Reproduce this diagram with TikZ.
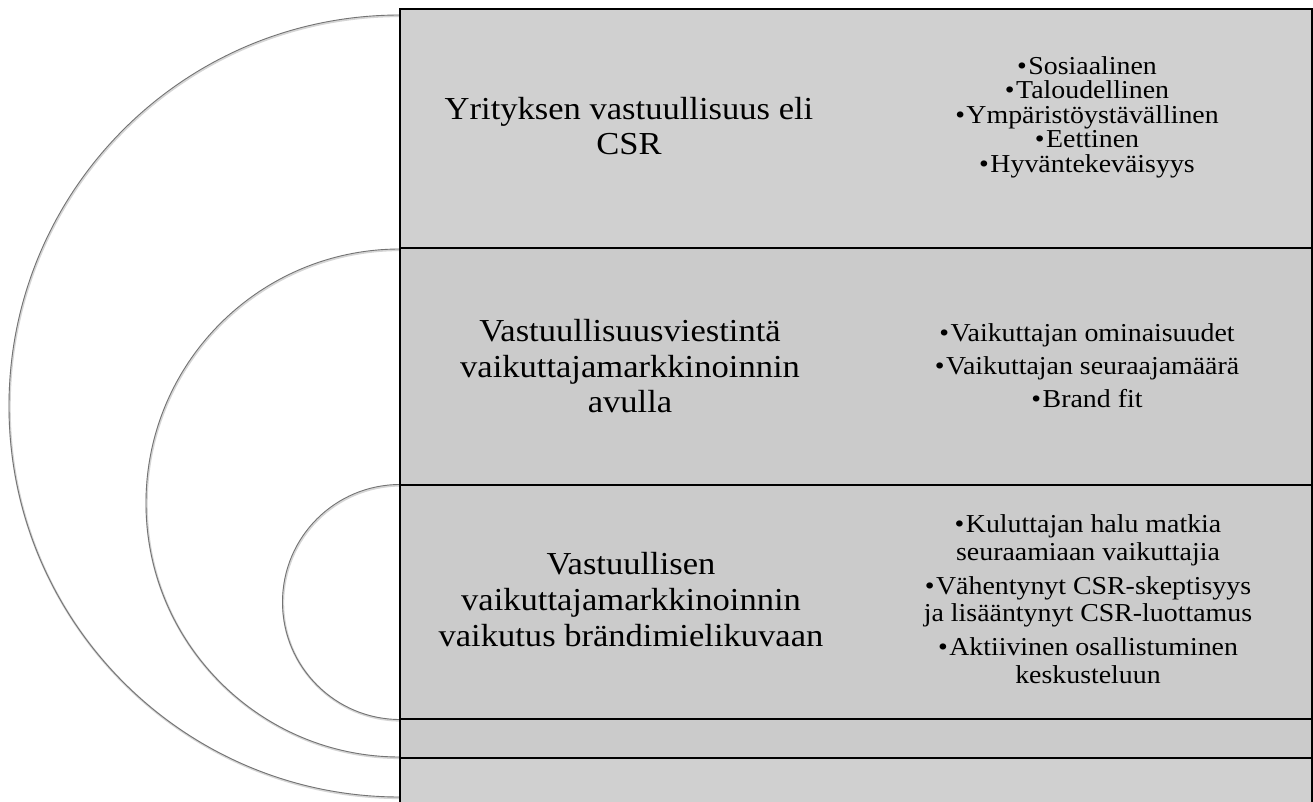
\documentclass[tikz,border=0pt]{standalone}
\usepackage{fontspec}
\setmainfont[FakeStretch=1.08]{Liberation Serif}
\definecolor{outerfill}{RGB}{208,208,208}
\definecolor{innerfill}{RGB}{203,203,203}
\definecolor{arcgray}{RGB}{115,115,115}
\definecolor{shadowgray}{RGB}{185,185,185}
\newcommand{\bul}{•\kern1.5pt}
\tikzset{
  ringarc/.style={draw=arcgray, line width=0.9pt},
  ringshadow/.style={draw=shadowgray, line width=2.2pt, opacity=0.6},
  band/.style={draw=black, line width=1.3pt},
  bigtext/.style={align=center, inner sep=0pt, anchor=center,
    font={\fontsize{32}{35.6}\selectfont\lineskiplimit=-100pt}},
  bullettext/.style={align=center, inner sep=0pt, anchor=center,
    font={\fontsize{25.8}{24.5}\selectfont\lineskiplimit=-100pt}},
}
\begin{document}
\begin{tikzpicture}[x=1pt,y=1pt]
\useasboundingbox (0,0) rectangle (1313,801);
\clip (0,0) rectangle (1313,801);
\fill[white] (0,0) rectangle (1313,801);
% ring arcs (left halves of circles) with soft shadow
\draw[ringshadow] (400.6,785) arc[start angle=90,end angle=270,radius=391pt];
\draw[ringshadow] (400.6,551) arc[start angle=90,end angle=270,radius=254pt];
\draw[ringshadow] (400.6,315.5) arc[start angle=90,end angle=270,radius=117.5pt];
\draw[ringarc] (400,786) coordinate (bigtop) arc[start angle=90,end angle=270,radius=391pt] coordinate (bigbot);
\draw[ringarc] (400,552) coordinate (midtop) arc[start angle=90,end angle=270,radius=254pt] coordinate (midbot);
\draw[ringarc] (400,316.5) coordinate (smalltop) arc[start angle=90,end angle=270,radius=117.5pt] coordinate (smallbot);
% bands
\filldraw[band, fill=outerfill] (400,792) rectangle (1312,-10);
\filldraw[band, fill=innerfill] (400,553) rectangle (1312,43);
\filldraw[band, fill=innerfill] (400,316) rectangle (1312,82);
% left texts
\node[bigtext] (t1) at (629,674.8) {Yrityksen vastuullisuus eli\\CSR};
\node[bigtext] (t2) at (630,434.8) {Vastuullisuusviestintä\\vaikuttajamarkkinoinnin\\avulla};
\node[bigtext] (t3) at (631,201.4) {Vastuullisen\\vaikuttajamarkkinoinnin\\vaikutus brändimielikuvaan};
% bullet lists
\node[bullettext] (b1) at (1087,684) {\bul Sosiaalinen\\\bul Taloudellinen\\\bul Ympäristöystävällinen\\\bul Eettinen\\\bul Hyväntekeväisyys};
\node[bullettext, font={\fontsize{25.8}{32.8}\selectfont\lineskiplimit=-100pt}] (b2) at (1087,435.3) {\bul Vaikuttajan ominaisuudet\\\bul Vaikuttajan seuraajamäärä\\\bul Brand fit};
\node[bullettext, font={\fontsize{25.8}{27.5}\selectfont\lineskiplimit=-100pt}] (b3) at (1088,201.8) {\bul Kuluttajan halu matkia\\seuraamiaan vaikuttajia\\[6.5pt]\bul Vähentynyt CSR-skeptisyys\\ja lisääntynyt CSR-luottamus\\[6.5pt]\bul Aktiivinen osallistuminen\\keskusteluun};
\end{tikzpicture}
\end{document}
